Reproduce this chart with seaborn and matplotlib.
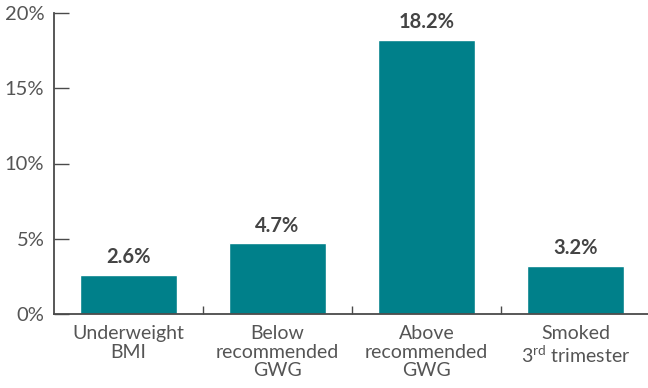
import matplotlib
matplotlib.use("Agg")
import matplotlib.pyplot as plt
import seaborn as sns
import pandas as pd
from matplotlib.ticker import FixedLocator, PercentFormatter

categories = ["Underweight\nBMI", "Below\nrecommended\nGWG", "Above\nrecommended\nGWG",
              "Smoked\n3$^{\\rm rd}$ trimester"]
values = [2.6, 4.7, 18.2, 3.2]
value_labels = ["2.6%", "4.7%", "18.2%", "3.2%"]
y_ticks = [0, 5, 10, 15, 20]

sns.set_theme(style="white")
plt.rcParams["font.family"] = ["Lato", "DejaVu Sans"]
plt.rcParams["mathtext.fontset"] = "custom"
plt.rcParams["mathtext.rm"] = "Lato"

df = pd.DataFrame({"category": categories, "value": values})

fig = plt.figure(figsize=(6.48, 3.88), dpi=100)
ax = fig.add_axes([54 / 648, 74 / 388, 596 / 648, 301 / 388])

teal = "#00808a"
sns.barplot(data=df, x="category", y="value", color=teal, saturation=1,
            width=0.645, ax=ax)

ax.set_xlim(-0.5, 3.5)
ax.set_ylim(0, 20)
ax.set_yticks(y_ticks)
ax.yaxis.set_major_formatter(PercentFormatter(decimals=0))
ax.set_xlabel("")
ax.set_ylabel("")

spine_col = "#4a4a4a"
for side in ["top", "right"]:
    ax.spines[side].set_visible(False)
for side in ["left", "bottom"]:
    ax.spines[side].set_color(spine_col)
    ax.spines[side].set_linewidth(1.3)

ax.tick_params(axis="y", direction="in", length=11, width=1.0, color=spine_col,
               labelsize=14.5, labelcolor="#555555", pad=7, left=True)
ax.tick_params(axis="x", which="major", length=0, labelsize=14,
               labelcolor="#555555", pad=8)

# small separators between category slots
ax.xaxis.set_minor_locator(FixedLocator([0.5, 1.5, 2.5]))
ax.tick_params(axis="x", which="minor", direction="in", length=5.5, width=1.0,
               color=spine_col, bottom=True)

for lbl in ax.get_xticklabels():
    lbl.set_linespacing(1.12)

for i, (v, t) in enumerate(zip(values, value_labels)):
    ax.annotate(t, xy=(i, v), xytext=(0, 5.5), textcoords="offset points",
                ha="center", va="bottom", fontsize=14.5, fontweight="bold",
                color="#444444")

fig.savefig("out.png", dpi=100)
